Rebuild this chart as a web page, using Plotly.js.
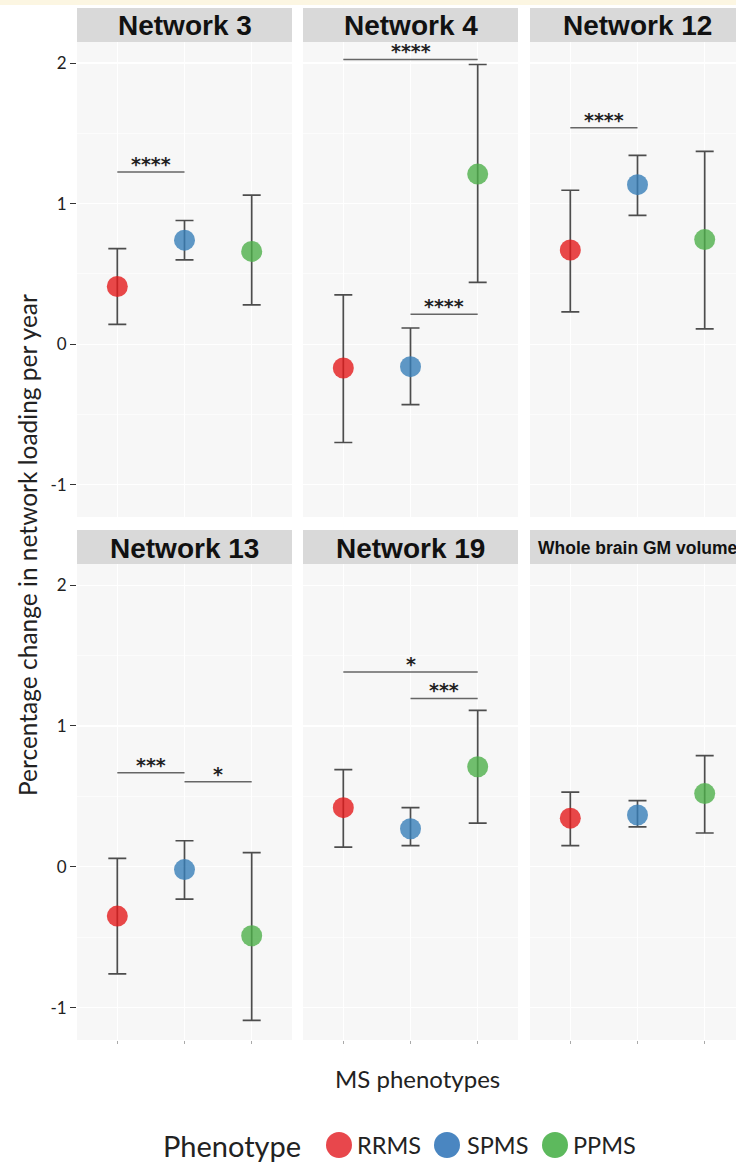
<!DOCTYPE html>
<html>
<head>
<meta charset="utf-8">
<script src="https://cdn.plot.ly/plotly-3.0.1.min.js"></script>
<style>
html,body{margin:0;padding:0;background:#ffffff;overflow:hidden;width:736px;height:1163px;}
#chart{width:760px;height:1163px;}
</style>
</head>
<body>
<div id="chart"></div>
<script>
// ---- data ----
const panels = ['Network 3','Network 4','Network 12','Network 13','Network 19','Whole brain GM volume'];
const phenotypes = ['RRMS','SPMS','PPMS'];
const rrmsMean = [0.41, -0.17, 0.67, -0.35, 0.42, 0.345];
const rrmsLow  = [0.14, -0.70, 0.23, -0.76, 0.14, 0.15];
const rrmsHigh = [0.68, 0.35, 1.095, 0.06, 0.69, 0.53];
const spmsMean = [0.74, -0.16, 1.135, -0.02, 0.27, 0.368];
const spmsLow  = [0.60, -0.43, 0.917, -0.23, 0.15, 0.283];
const spmsHigh = [0.88, 0.115, 1.343, 0.185, 0.42, 0.47];
const ppmsMean = [0.66, 1.21, 0.744, -0.49, 0.71, 0.52];
const ppmsLow  = [0.28, 0.44, 0.109, -1.09, 0.31, 0.24];
const ppmsHigh = [1.06, 1.99, 1.372, 0.10, 1.11, 0.789];
// significance brackets
const sigPanel = [0, 1, 1, 2, 3, 3, 4, 4];
const sigFrom  = ['RRMS','RRMS','SPMS','RRMS','RRMS','SPMS','RRMS','SPMS'];
const sigTo    = ['SPMS','PPMS','PPMS','SPMS','SPMS','PPMS','PPMS','PPMS'];
const sigY     = [1.225, 2.026, 0.213, 1.54, 0.668, 0.604, 1.383, 1.195];
const sigLabel = ['****','****','****','****','***','*','*','***'];
const yTicks = [-1, 0, 1, 2];

// ---- styling / geometry ----
const colors = ['#E41A1C','#377EB8','#4DAF4A'];
const legendColors = ['#E8474C','#4A86C1','#5DB95D'];
const W = 760, H = 1163;
const colPx = [[77,292],[303,518],[530,745]];
const rowPx = [[42,517],[564,1040]];
const stripPx = [[8,42],[530,564]];
const px = v => v / W;
const py = v => 1 - v / H;
const yRange = [-1.23, 2.15];

const means = [rrmsMean, spmsMean, ppmsMean];
const lows = [rrmsLow, spmsLow, ppmsLow];
const highs = [rrmsHigh, spmsHigh, ppmsHigh];

const traces = [];
const layout = {
  width: W, height: H,
  margin: {l:0, r:0, t:0, b:0},
  paper_bgcolor: '#ffffff',
  plot_bgcolor: '#f7f7f7',
  showlegend: false,
  font: {family: 'Lato, "Open Sans", sans-serif', color: '#222'},
  shapes: [], annotations: []
};

// cream band at the very top
layout.shapes.push({type:'rect', xref:'paper', yref:'paper', x0:0, x1:1, y0:py(5), y1:1,
  fillcolor:'#fcf6e2', line:{width:0}, layer:'below'});

panels.forEach((name, i) => {
  const r = Math.floor(i / 3), c = i % 3;
  const sfx = i === 0 ? '' : String(i + 1);
  const xa = 'xaxis' + sfx, ya = 'yaxis' + sfx;
  layout[xa] = {
    domain: [px(colPx[c][0]), px(colPx[c][1])],
    anchor: 'y' + sfx,
    type: 'category',
    categoryorder: 'array', categoryarray: phenotypes,
    range: [-0.6, 2.6],
    showgrid: true, gridcolor: '#ffffff', gridwidth: 1.2,
    zeroline: false, showline: false,
    showticklabels: false,
    ticks: r === 1 ? 'outside' : '', ticklen: 3, tickcolor: '#aaaaaa', tickwidth: 1,
    fixedrange: true
  };
  layout[ya] = {
    domain: [py(rowPx[r][1]), py(rowPx[r][0])],
    anchor: 'x' + sfx,
    range: yRange,
    tickvals: yTicks,
    ticktext: yTicks.map(String),
    showgrid: true, gridcolor: '#ffffff', gridwidth: 1.2,
    minor: {dtick: 0.5, tick0: 0, showgrid: true, gridcolor: '#fcfcfc', gridwidth: 1},
    zeroline: false, showline: false,
    showticklabels: c === 0,
    ticks: c === 0 ? 'outside' : '', ticklen: 6, tickcolor: '#333333', tickwidth: 1,
    tickfont: {family: 'Lato, sans-serif', size: 17, color: '#222'},
    fixedrange: true
  };
  const ys = means.map(m => m[i]);
  traces.push({
    type: 'scatter', mode: 'markers',
    x: phenotypes, y: ys,
    xaxis: 'x' + sfx, yaxis: 'y' + sfx,
    marker: {size: 21, color: colors, opacity: 0.8, line: {width: 0}},
    error_y: {
      type: 'data', symmetric: false,
      array: highs.map((h, k) => h[i] - ys[k]),
      arrayminus: lows.map((l, k) => ys[k] - l[i]),
      color: '#4d4d4d', thickness: 1.7, width: 9
    },
    hoverinfo: 'x+y'
  });
  // strip
  layout.shapes.push({type:'rect', xref:'paper', yref:'paper',
    x0: px(colPx[c][0]), x1: px(colPx[c][1]), y0: py(stripPx[r][1]), y1: py(stripPx[r][0]),
    fillcolor:'#d9d9d9', line:{width:0}});
  const isLong = name.length > 12;
  layout.annotations.push({xref:'paper', yref:'paper',
    x: px((colPx[c][0] + colPx[c][1]) / 2), y: py((stripPx[r][0] + stripPx[r][1]) / 2 + 1),
    text: '<b>' + name + '</b>', showarrow: false, xanchor:'center', yanchor:'middle',
    font: {family: '"Liberation Sans", Arial, sans-serif', size: isLong ? 17.5 : 28, color: '#111'}});
});

// significance brackets
sigPanel.forEach((p, j) => {
  const sfx = p === 0 ? '' : String(p + 1);
  const a = phenotypes.indexOf(sigFrom[j]), b = phenotypes.indexOf(sigTo[j]);
  layout.shapes.push({type:'line', xref:'x' + sfx, yref:'y' + sfx,
    x0: a, x1: b, y0: sigY[j], y1: sigY[j], line:{color:'#666666', width:1.6}});
  layout.annotations.push({xref:'x' + sfx, yref:'y' + sfx,
    x: (a + b) / 2, y: sigY[j], text: '<b>' + sigLabel[j] + '</b>', showarrow:false,
    xanchor:'center', yanchor:'middle', yshift: 8,
    font:{family:'"DejaVu Sans", sans-serif', size: 19, color:'#222'}});
});

// axis titles
layout.annotations.push({xref:'paper', yref:'paper', x: px(27), y: py(545),
  text:'Percentage change in network loading per year', textangle:-90, showarrow:false,
  xanchor:'center', yanchor:'middle', font:{family:'Lato, sans-serif', size:24.5, color:'#222'}});
layout.annotations.push({xref:'paper', yref:'paper', x: px(417), y: py(1078),
  text:'MS phenotypes', showarrow:false, xanchor:'center', yanchor:'middle',
  font:{family:'Lato, sans-serif', size:24, color:'#222'}});

// legend (drawn manually for large keys)
layout.annotations.push({xref:'paper', yref:'paper', x: px(232), y: py(1145),
  text:'Phenotype', showarrow:false, xanchor:'center', yanchor:'middle',
  font:{family:'Lato, sans-serif', size:29, color:'#222'}});
const legCx = [339, 447, 555];
const legTx = [389, 497, 604];
phenotypes.forEach((ph, k) => {
  layout.shapes.push({type:'circle', xref:'paper', yref:'paper',
    x0: px(legCx[k] - 13), x1: px(legCx[k] + 13), y0: py(1145 + 13), y1: py(1145 - 13),
    fillcolor: legendColors[k], line:{width:0}});
  layout.annotations.push({xref:'paper', yref:'paper', x: px(legTx[k]), y: py(1145),
    text: ph, showarrow:false, xanchor:'center', yanchor:'middle',
    font:{family:'Lato, sans-serif', size:23.5, color:'#222'}});
});

Plotly.newPlot('chart', traces, layout, {displayModeBar:false, staticPlot:true});
</script>
</body>
</html>
